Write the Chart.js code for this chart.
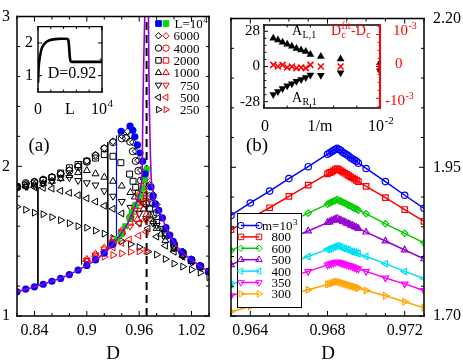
<!DOCTYPE html>
<html>
<head>
<meta charset="utf-8">
<title>order parameter vs D</title>
<script src="https://cdn.jsdelivr.net/npm/chart.js@4.4.1/dist/chart.umd.min.js"></script>
<style>
  body { margin: 0; width: 463px; height: 361px; position: relative; background: #fff; overflow: hidden; }
  canvas { position: absolute; }
</style>
</head>
<body>
<canvas id="chartA" width="232" height="361" style="left:0;top:0"></canvas>
<canvas id="chartB" width="238" height="361" style="left:225px;top:0"></canvas>
<canvas id="insetA" width="100" height="106" style="left:20px;top:12px"></canvas>
<canvas id="insetB" width="190" height="122" style="left:234px;top:12px"></canvas>
<script>
Chart.defaults.font.family = 'Liberation Serif';
Chart.defaults.color = '#000';
var SERIF = '"Liberation Serif"';

// ---------- panel (a) ----------
var aXTicks = [0.84, 0.9, 0.96, 1.02];
var aXTickText = ['0.84', '0.9', '0.96', '1.02'];
var aYTicks = [1, 2, 3];
var aSizes = [6000, 4000, 2000, 1000, 750, 500, 250];

// L = 10^4 (blue filled) and its lower branch (green)
var aBlue = [[0.82,1.162],[0.83,1.180],[0.84,1.195],[0.85,1.212],[0.86,1.232],[0.87,1.251],[0.88,1.277],[0.89,1.307],[0.90,1.338],[0.91,1.375],[0.92,1.420],[0.929,1.476],
  [0.9393,2.234],[0.9496,2.268],[0.9527,2.240],[0.955,2.197],[0.958,2.143],[0.961,2.089],[0.964,2.034],[0.967,1.950],
  [0.9736,1.862],[0.976,1.800],[0.9785,1.750],[0.9824,1.706],[0.9866,1.655],[0.9907,1.591],[0.995,1.540],[0.999,1.498],[1.0087,1.429],[1.0195,1.379],[1.0295,1.336],[1.04,1.297]];
var aGreen = [[0.935,1.515],[0.9393,1.547],[0.944,1.600],[0.9489,1.649],[0.9516,1.693],[0.9557,1.742],[0.961,1.800],[0.9634,1.850],[0.966,1.910],[0.9687,1.980]];

// fit (purple), both sides of D_c
var aFitLeft = [[0.82,1.162],[0.84,1.195],[0.86,1.232],[0.88,1.277],[0.90,1.338],[0.91,1.375],[0.92,1.420],[0.93,1.480],[0.94,1.555],[0.95,1.655],[0.955,1.730],[0.958,1.780],[0.961,1.840],[0.9634,1.970],[0.9638,2.150],[0.9643,2.400],[0.9652,2.700],[0.9664,3.000],[0.9668,3.100]];
var aFitRight = [[0.9703,3.100],[0.9706,3.000],[0.9712,2.600],[0.9720,2.300],[0.9728,2.100],[0.9737,1.930],[0.975,1.860],[0.978,1.770],[0.9824,1.706],[0.9866,1.655],[0.9907,1.591],[0.995,1.540],[1.00,1.490],[1.0087,1.429],[1.0195,1.379],[1.0295,1.336],[1.04,1.297]];

// black: branch coming from the left, per L
var aBlack6000 = [[0.82,1.868],[0.83,1.884],[0.84,1.898],[0.85,1.913],[0.86,1.930],[0.87,1.952],[0.88,1.976],[0.89,2.003],[0.90,2.037],[0.91,2.077],[0.92,2.122],[0.93,2.167],[0.94,2.207],[0.947,2.234],[0.950,2.208],[0.953,2.160],[0.956,2.100],[0.959,2.040],[0.962,1.975],[0.965,1.915],[0.972,1.875],[0.976,1.810],[0.98,1.745],[0.99,1.585],[1.00,1.488],[1.01,1.430],[1.02,1.379],[1.03,1.336],[1.04,1.298]];
var aBlack4000 = [[0.82,1.865],[0.83,1.888],[0.84,1.896],[0.85,1.910],[0.86,1.927],[0.87,1.948],[0.88,1.970],[0.89,1.996],[0.90,2.030],[0.91,2.070],[0.92,2.118],[0.93,2.160],[0.94,2.186],[0.945,2.190],[0.9496,2.164],[0.9527,2.100],[0.956,2.035],[0.959,1.970],[0.962,1.905],[0.965,1.845],[0.972,1.800],[0.976,1.750],[0.98,1.690],[0.99,1.560],[1.00,1.476],[1.01,1.424],[1.02,1.374],[1.03,1.333],[1.04,1.297]];
var aBlack2000 = [[0.82,1.862],[0.83,1.875],[0.84,1.888],[0.85,1.905],[0.86,1.925],[0.87,1.955],[0.88,1.990],[0.89,2.012],[0.90,2.035],[0.91,2.055],[0.92,2.078],[0.93,2.067],[0.939,2.024],[0.949,1.948],[0.953,1.900],[0.956,1.860],[0.959,1.820],[0.962,1.785],[0.965,1.765],[0.968,1.750],[0.972,1.720],[0.976,1.675],[0.98,1.625],[0.99,1.535],[1.00,1.460],[1.01,1.413],[1.02,1.370],[1.03,1.330],[1.04,1.296]];
var aBlack1000 = [[0.82,1.860],[0.83,1.868],[0.84,1.876],[0.85,1.886],[0.86,1.900],[0.87,1.918],[0.88,1.938],[0.89,1.958],[0.90,1.972],[0.91,1.950],[0.92,1.927],[0.93,1.900],[0.94,1.868],[0.95,1.825],[0.955,1.795],[0.96,1.755],[0.965,1.715],[0.972,1.675],[0.976,1.630],[0.98,1.585],[0.985,1.547],[0.99,1.505],[1.00,1.447],[1.01,1.405],[1.02,1.364],[1.03,1.327],[1.04,1.295]];
var aBlack750 = [[0.82,1.858],[0.83,1.866],[0.84,1.874],[0.85,1.885],[0.86,1.900],[0.87,1.922],[0.88,1.925],[0.89,1.905],[0.90,1.890],[0.91,1.875],[0.92,1.836],[0.93,1.800],[0.94,1.765],[0.95,1.725],[0.96,1.685],[0.968,1.652],[0.976,1.620],[0.98,1.605],[0.987,1.584],[0.99,1.550],[1.00,1.455],[1.01,1.402],[1.02,1.360],[1.03,1.325],[1.04,1.293]];
var aBlack500 = [[0.82,1.862],[0.83,1.862],[0.84,1.860],[0.85,1.856],[0.86,1.851],[0.87,1.836],[0.88,1.823],[0.89,1.807],[0.90,1.786],[0.91,1.764],[0.92,1.736],[0.93,1.716],[0.94,1.685],[0.95,1.655],[0.96,1.620],[0.97,1.585],[0.98,1.530],[0.99,1.470],[1.00,1.429],[1.01,1.396],[1.02,1.364],[1.03,1.327],[1.04,1.292]];
var aBlack250 = [[0.82,1.73],[0.83,1.71],[0.84,1.69],[0.85,1.68],[0.86,1.66],[0.87,1.64],[0.88,1.62],[0.89,1.60],[0.90,1.59],[0.91,1.57],[0.92,1.55],[0.93,1.52],[0.94,1.50],[0.95,1.48],[0.96,1.46],[0.97,1.43],[0.98,1.41],[0.99,1.38],[1.00,1.35],[1.01,1.33],[1.02,1.31],[1.03,1.29],[1.04,1.26]];

// red: branch coming from the disordered side, per L
var aRed6000 = [[0.94,1.550],[0.95,1.665],[0.955,1.740],[0.96,1.815],[0.964,1.865],[0.968,1.920]];
var aRed4000 = [[0.93,1.485],[0.94,1.552],[0.95,1.660],[0.955,1.725],[0.96,1.790],[0.964,1.835],[0.968,1.870]];
var aRed2000 = [[0.93,1.490],[0.94,1.560],[0.95,1.655],[0.955,1.700],[0.96,1.740],[0.964,1.765],[0.968,1.786]];
var aRed1000 = [[0.90,1.378],[0.91,1.415],[0.92,1.455],[0.93,1.510],[0.94,1.570],[0.95,1.620],[0.958,1.645],[0.968,1.677]];
var aRed750 = [[0.90,1.372],[0.91,1.408],[0.92,1.448],[0.93,1.495],[0.94,1.550],[0.9496,1.600],[0.96,1.620],[0.968,1.638]];
var aRed500 = [[0.90,1.368],[0.91,1.398],[0.92,1.428],[0.93,1.458],[0.94,1.488],[0.9485,1.511],[0.9594,1.537],[0.968,1.563]];
var aRed250 = [[0.90,1.368],[0.91,1.381],[0.92,1.396],[0.93,1.407],[0.94,1.418],[0.95,1.429],[0.96,1.432],[0.968,1.435]];

var aJumpD = [0.844, 0.894, 0.924];
var aJumpTop = [1.862, 2.034, 2.160];
var aJumpBottom = [1.205, 1.345, 1.447];
var aBlueJump = [0.934, 2.205, 1.500];
var aDc = 0.9685;

// inset (a): profile along the chain at D=0.92
var insetPos = [0,100,200,400,600,900,1300,1800,2400,3000,3600,4200,4600,4750,4850,4950,5050,5150,5300,7000,10000];
var insetVal = [0.78,1.25,1.45,1.68,1.84,1.95,2.03,2.08,2.11,2.12,2.13,2.13,2.12,2.08,1.90,1.62,1.47,1.43,1.42,1.42,1.42];

// ---------- panel (b) ----------
var bXTicks = [0.964, 0.968, 0.972];
var bXTickText = ['0.964', '0.968', '0.972'];
var bYTicks = [1.70, 1.95, 2.20];
var bYTickText = ['1.70', '1.95', '2.20'];
var bM = [1000, 800, 600, 500, 400, 350, 300];
var bD = [0.963,0.964,0.965,0.966,0.967,0.968,0.9681,0.9682,0.9683,0.9684,0.9685,0.9686,0.9687,0.9688,0.9689,0.9690,0.9691,0.9692,0.9693,0.9694,0.9695,0.9696,0.970,0.971,0.972,0.973];
var bM1000 = [1.869,1.890,1.910,1.931,1.951,1.972,1.974,1.976,1.978,1.980,1.982,1.980,1.978,1.975,1.973,1.971,1.969,1.966,1.964,1.962,1.960,1.957,1.948,1.926,1.903,1.881];
var bM800 = [1.845,1.864,1.882,1.901,1.920,1.939,1.941,1.942,1.944,1.946,1.948,1.946,1.944,1.942,1.940,1.938,1.936,1.934,1.932,1.930,1.928,1.926,1.918,1.899,1.879,1.859];
var bM600 = [1.810,1.826,1.841,1.857,1.873,1.888,1.890,1.891,1.893,1.894,1.896,1.894,1.893,1.891,1.890,1.888,1.886,1.885,1.883,1.881,1.880,1.878,1.872,1.855,1.839,1.823];
var bM500 = [1.786,1.800,1.814,1.829,1.843,1.857,1.858,1.860,1.861,1.863,1.864,1.862,1.861,1.859,1.858,1.856,1.855,1.853,1.852,1.850,1.849,1.847,1.841,1.826,1.811,1.796];
var bM400 = [1.753,1.765,1.777,1.788,1.800,1.812,1.813,1.814,1.816,1.817,1.818,1.817,1.816,1.814,1.813,1.812,1.811,1.809,1.808,1.807,1.806,1.805,1.800,1.788,1.775,1.763];
var bM350 = [1.734,1.744,1.755,1.765,1.775,1.786,1.787,1.788,1.789,1.790,1.791,1.790,1.789,1.788,1.787,1.786,1.785,1.784,1.783,1.781,1.780,1.779,1.775,1.764,1.754,1.743];
var bM300 = [1.707,1.716,1.726,1.735,1.744,1.753,1.754,1.755,1.756,1.757,1.758,1.757,1.756,1.755,1.754,1.753,1.752,1.751,1.750,1.749,1.748,1.747,1.743,1.734,1.724,1.714];

// inset (b): amplitudes and D_c shift vs 1/m
var invM = [0.0008,0.0012,0.0016,0.0020,0.0024,0.0028,0.0032,0.0036,0.0040,0.0049,0.0066,0.0100];
var ampLeft = [22.5,21.0,19.3,17.6,16.1,14.4,13.2,12.0,9.5,8.0,6.0,3.0];
var ampRight = [-22.3,-19.8,-17.4,-15.4,-13.7,-11.7,-10.3,-8.8,-6.8,-7.0,-5.0,-3.5];
var dcShift = [0.00005,0,0.00005,-0.00003,0,-0.00005,-0.00003,-0.00005,0.00005,0,0,0];

// ---------- helpers ----------
function pts(arr) { return arr.map(function (p) { return { x: p[0], y: p[1] }; }); }
function zip(xs, ys) { return xs.map(function (x, i) { return { x: x, y: ys[i] }; }); }

var SHAPES = {
  6000: ['rectRot', 0], 4000: ['circle', 0], 2000: ['rect', 0], 1000: ['triangle', 0],
  750: ['triangle', 180], 500: ['triangle', -90], 250: ['triangle', 90]
};
function markRadius(shape) { return shape[0] === 'triangle' ? 4 : shape[0] === 'rect' ? 4.2 : 3.5; }

function markers(arr, color, shape) {
  return {
    data: pts(arr), showLine: false,
    pointStyle: shape[0], pointRotation: shape[1], pointRadius: markRadius(shape),
    pointBorderColor: color, pointBackgroundColor: 'rgba(0,0,0,0)', pointBorderWidth: 1
  };
}
function segment(x, y0, y1, color, width, dash) {
  return {
    data: [{ x: x, y: y0 }, { x: x, y: y1 }], showLine: true, pointRadius: 0,
    borderColor: color, borderWidth: width, borderDash: dash || []
  };
}

function richText(ctx, parts, x, y, size, align, color) {
  var small = Math.round(size * 0.68);
  var big = size + 'px ' + SERIF, sm = small + 'px ' + SERIF;
  var widths = parts.map(function (p) {
    if (typeof p === 'string') { ctx.font = big; return ctx.measureText(p).width; }
    ctx.font = sm;
    return Math.max(p.sup ? ctx.measureText(p.sup).width : 0, p.sub ? ctx.measureText(p.sub).width : 0) + 1;
  });
  var total = widths.reduce(function (s, w) { return s + w; }, 0);
  var cx = align === 'center' ? x - total / 2 : align === 'right' ? x - total : x;
  ctx.fillStyle = color || '#000';
  ctx.textAlign = 'left';
  ctx.textBaseline = 'alphabetic';
  parts.forEach(function (p, i) {
    if (typeof p === 'string') { ctx.font = big; ctx.fillText(p, cx, y); }
    else {
      ctx.font = sm;
      if (p.sup) ctx.fillText(p.sup, cx + 0.5, y - size * 0.42);
      if (p.sub) ctx.fillText(p.sub, cx + 0.5, y + size * 0.22);
    }
    cx += widths[i];
  });
}

function symbol(ctx, shape, x, y, stroke, fill, r) {
  ctx.strokeStyle = stroke;
  ctx.fillStyle = fill || 'rgba(0,0,0,0)';
  ctx.lineWidth = 1;
  Chart.helpers.drawPoint(ctx, { pointStyle: shape[0], rotation: shape[1], radius: r || markRadius(shape), borderWidth: 1 }, x, y);
}

// inward ticks on every side + frame
var framePlugin = {
  id: 'frame',
  afterDatasetsDraw: function (chart, args, o) {
    var ctx = chart.ctx, a = chart.chartArea;
    ctx.save();
    (o.sets || []).forEach(function (s) {
      var sc = chart.scales[s.axis];
      ctx.strokeStyle = s.color || '#000';
      ctx.lineWidth = s.lw || 1;
      ctx.beginPath();
      [[s.major, o.len || 5], [s.minor, (o.len || 5) * 0.6]].forEach(function (pair) {
        (pair[0] || []).forEach(function (v) {
          var p = sc.getPixelForValue(v);
          s.sides.forEach(function (side) {
            if (side === 'bottom') { ctx.moveTo(p, a.bottom); ctx.lineTo(p, a.bottom - pair[1]); }
            if (side === 'top') { ctx.moveTo(p, a.top); ctx.lineTo(p, a.top + pair[1]); }
            if (side === 'left') { ctx.moveTo(a.left, p); ctx.lineTo(a.left + pair[1], p); }
            if (side === 'right') { ctx.moveTo(a.right, p); ctx.lineTo(a.right - pair[1], p); }
          });
        });
      });
      ctx.stroke();
    });
    var bw = o.bw || 1.5;
    var edges = {
      top: [a.left, a.top, a.right, a.top], bottom: [a.left, a.bottom, a.right, a.bottom],
      left: [a.left, a.top, a.left, a.bottom], right: [a.right, a.top, a.right, a.bottom]
    };
    ctx.lineCap = 'square';
    Object.keys(edges).forEach(function (k) {
      var e = edges[k];
      ctx.strokeStyle = (o.edgeColor && o.edgeColor[k]) || '#000';
      ctx.lineWidth = (o.edgeWidth && o.edgeWidth[k]) || bw;
      ctx.beginPath(); ctx.moveTo(e[0], e[1]); ctx.lineTo(e[2], e[3]); ctx.stroke();
    });
    ctx.restore();
  }
};

var whiteBox = {
  id: 'whiteBox',
  beforeDatasetsDraw: function (chart) {
    var a = chart.chartArea;
    chart.ctx.save();
    chart.ctx.fillStyle = '#fff';
    chart.ctx.fillRect(a.left, a.top, a.width, a.height);
    chart.ctx.restore();
  }
};

function fixed(vals) { return function (s) { s.ticks = vals.map(function (v) { return { value: v }; }); }; }
function baseScale(extra) {
  var s = {
    type: 'linear', grid: { display: false, drawTicks: false }, border: { display: false },
    ticks: { autoSkip: false, maxRotation: 0, font: { size: 16 } }
  };
  Object.keys(extra).forEach(function (k) {
    if (k === 'ticks') Object.keys(extra.ticks).forEach(function (t) { s.ticks[t] = extra.ticks[t]; });
    else s[k] = extra[k];
  });
  return s;
}
var common = { responsive: false, animation: false, events: [] };
function opts(o) { Object.keys(common).forEach(function (k) { o[k] = common[k]; }); return o; }

// ---------- panel (a) chart ----------
var redSets = [aRed6000, aRed4000, aRed2000, aRed1000, aRed750, aRed500, aRed250];
var blackSets = [aBlack6000, aBlack4000, aBlack2000, aBlack1000, aBlack750, aBlack500, aBlack250];

var aDatasets = [
  { data: pts(aFitLeft), showLine: true, pointRadius: 0, borderColor: '#9400d3', borderWidth: 1.6, cubicInterpolationMode: 'monotone', clip: 0 },
  { data: pts(aFitRight), showLine: true, pointRadius: 0, borderColor: '#9400d3', borderWidth: 1.6, cubicInterpolationMode: 'monotone', clip: 0 },
  { data: pts(aBlue), showLine: false, pointStyle: 'circle', pointRadius: 3.6, pointBackgroundColor: '#0000ff', pointBorderColor: '#0000ff', pointBorderWidth: 0 },
  { data: pts(aGreen), showLine: false, pointStyle: 'rect', pointRadius: 4.2, pointBackgroundColor: '#00dd00', pointBorderColor: '#00dd00', pointBorderWidth: 0 }
];
aSizes.forEach(function (L, i) { aDatasets.push(markers(redSets[i], '#ff0000', SHAPES[L])); });
aSizes.forEach(function (L, i) { aDatasets.push(markers(blackSets[i], '#000', SHAPES[L])); });
aJumpD.forEach(function (d, i) { aDatasets.push(segment(d, aJumpTop[i], aJumpBottom[i], '#000', 1)); });
aDatasets.push(segment(aBlueJump[0], aBlueJump[1], aBlueJump[2], '#0000ff', 1.2));
aDatasets.push(segment(aDc, 1, 3, '#000', 2, [8, 5]));

var panelAText = {
  id: 'panelAText',
  afterDraw: function (chart) {
    var ctx = chart.ctx;
    ctx.save();
    richText(ctx, ['(a)'], 39, 151, 19, 'center');
    richText(ctx, ['D'], 113, 359, 19, 'center');
    // legend
    var y0 = 23.5, dy = 12.3;
    symbol(ctx, ['rect', 0], 158.5, y0, '#0000ff', '#0000ff', 4);
    symbol(ctx, ['rect', 0], 166, y0, '#00dd00', '#00dd00', 4);
    richText(ctx, ['L=10', { sup: '4' }], 174.5, y0 + 4.5, 13, 'left');
    aSizes.forEach(function (L, i) {
      var y = y0 + dy * (i + 1);
      symbol(ctx, SHAPES[L], 158.5, y, '#000', null, markRadius(SHAPES[L]) - 0.3);
      symbol(ctx, SHAPES[L], 166, y, '#ff0000', null, markRadius(SHAPES[L]) - 0.3);
      richText(ctx, [String(L)], 199.5, y + 4.5, 13, 'right');
    });
    ctx.restore();
  }
};

new Chart(document.getElementById('chartA'), {
  type: 'scatter',
  data: { datasets: aDatasets },
  options: opts({
    layout: { padding: { top: 7, right: 23, left: 0, bottom: 0 } },
    scales: {
      x: baseScale({ min: 0.82, max: 1.04, afterBuildTicks: fixed(aXTicks), afterFit: function (s) { s.height = 45; },
        ticks: { padding: 5, callback: function (v, i) { return aXTickText[i]; } } }),
      y: baseScale({ min: 1, max: 3, afterBuildTicks: fixed(aYTicks), afterFit: function (s) { s.width = 17; },
        ticks: { padding: 7, callback: function (v, i) { return String(aYTicks[i]); } } })
    },
    plugins: {
      legend: { display: false }, tooltip: { enabled: false },
      frame: { len: 5, sets: [
        { axis: 'x', major: aXTicks, minor: [0.82, 0.86, 0.88, 0.92, 0.94, 0.98, 1.0, 1.04], sides: ['bottom', 'top'] },
        { axis: 'y', major: aYTicks, minor: [1.2, 1.4, 1.6, 1.8, 2.2, 2.4, 2.6, 2.8], sides: ['left', 'right'] }
      ] }
    }
  }),
  plugins: [framePlugin, panelAText]
});

// ---------- inset (a) ----------
new Chart(document.getElementById('insetA'), {
  type: 'scatter',
  data: { datasets: [
    { data: zip(insetPos, insetVal), showLine: true, pointRadius: 0, borderColor: '#000', borderWidth: 2.6, cubicInterpolationMode: 'monotone' }
  ] },
  options: opts({
    layout: { padding: { top: 6, right: 18, left: 0, bottom: 0 } },
    scales: {
      x: baseScale({ min: 0, max: 10000, afterFit: function (s) { s.height = 26; }, ticks: { display: false } }),
      y: baseScale({ min: 0.5, max: 2.5, afterBuildTicks: fixed([1, 2]), afterFit: function (s) { s.width = 18; },
        ticks: { padding: 5, callback: function (v) { return String(v); } } })
    },
    plugins: {
      legend: { display: false }, tooltip: { enabled: false },
      frame: { len: 4, bw: 1.4, sets: [
        { axis: 'x', major: [0, 10000], minor: [2000, 4000, 6000, 8000], sides: ['bottom', 'top'] },
        { axis: 'y', major: [1, 2], minor: [1.5, 2.5], sides: ['left', 'right'] }
      ] }
    }
  }),
  plugins: [whiteBox, framePlugin, {
    id: 'insetAText',
    afterDraw: function (chart) {
      var ctx = chart.ctx;
      ctx.save();
      ctx.translate(-20, -12);
      richText(ctx, ['0'], 38, 113.5, 16, 'center');
      richText(ctx, ['L'], 70, 113.5, 16, 'center');
      richText(ctx, ['10', { sup: '4' }], 91, 113.5, 16, 'left');
      richText(ctx, ['D=0.92'], 72, 78, 16, 'center');
      ctx.restore();
    }
  }]
});

// ---------- panel (b) chart ----------
var bSeries = [bM1000, bM800, bM600, bM500, bM400, bM350, bM300];
var bColors = ['#0000ff', '#ff0000', '#00cc00', '#9400d3', '#00e0ee', '#ff00ff', '#ffa500'];
var bShapes = [['circle', 0], ['rect', 0], ['rectRot', 0], ['triangle', 0], ['triangle', -90], ['triangle', 180], ['triangle', 90]];

var bDatasets = bSeries.map(function (vals, i) {
  return {
    data: zip(bD, vals), showLine: true, borderColor: bColors[i], borderWidth: 1.5,
    pointStyle: bShapes[i][0], pointRotation: bShapes[i][1], pointRadius: markRadius(bShapes[i]) - 0.3,
    pointBorderColor: bColors[i], pointBackgroundColor: 'rgba(0,0,0,0)', pointBorderWidth: 1.2
  };
});

var panelBText = {
  id: 'panelBText',
  afterDraw: function (chart) {
    var ctx = chart.ctx;
    ctx.save();
    ctx.translate(-225, 0);
    richText(ctx, ['(b)'], 257, 151, 19, 'center');
    richText(ctx, ['D'], 328, 359, 19, 'center');
    // legend box
    ctx.fillStyle = '#fff';
    ctx.fillRect(237, 213, 65, 95);
    ctx.strokeStyle = '#000';
    ctx.lineWidth = 1;
    ctx.strokeRect(237.5, 213.5, 64, 94);
    bM.forEach(function (m, i) {
      var y = 225.5 + i * 11.4;
      ctx.strokeStyle = bColors[i];
      ctx.lineWidth = 1.5;
      ctx.beginPath(); ctx.moveTo(241, y); ctx.lineTo(259, y); ctx.stroke();
      symbol(ctx, bShapes[i], 241, y, bColors[i], null, markRadius(bShapes[i]) - 0.3);
      symbol(ctx, bShapes[i], 259, y, bColors[i], null, markRadius(bShapes[i]) - 0.3);
      if (i === 0) richText(ctx, ['m=10', { sup: '3' }], 262, y + 4.5, 13, 'left');
      else richText(ctx, [String(m)], 291, y + 4.5, 13, 'right');
    });
    ctx.restore();
  }
};

new Chart(document.getElementById('chartB'), {
  type: 'scatter',
  data: { datasets: bDatasets },
  options: opts({
    layout: { padding: { top: 7, right: 0, left: 6, bottom: 0 } },
    scales: {
      x: baseScale({ min: 0.963, max: 0.973, afterBuildTicks: fixed(bXTicks), afterFit: function (s) { s.height = 45; },
        ticks: { padding: 5, callback: function (v, i) { return bXTickText[i]; } } }),
      y: baseScale({ position: 'right', min: 1.7, max: 2.2, afterBuildTicks: fixed(bYTicks), afterFit: function (s) { s.width = 39; },
        ticks: { padding: 9, callback: function (v, i) { return bYTickText[i]; } } })
    },
    plugins: {
      legend: { display: false }, tooltip: { enabled: false },
      frame: { len: 5, sets: [
        { axis: 'x', major: bXTicks, minor: [0.963, 0.965, 0.966, 0.967, 0.969, 0.970, 0.971, 0.973], sides: ['bottom', 'top'] },
        { axis: 'y', major: bYTicks, minor: [1.75, 1.8, 1.85, 1.9, 2.0, 2.05, 2.1, 2.15], sides: ['right', 'left'] }
      ] }
    }
  }),
  plugins: [framePlugin, panelBText]
});

// ---------- inset (b) ----------
new Chart(document.getElementById('insetB'), {
  type: 'scatter',
  data: { datasets: [
    { data: zip(invM, dcShift), yAxisID: 'y2', showLine: false, pointStyle: 'crossRot', pointRadius: 4.2, pointBorderColor: '#ff0000', pointBorderWidth: 1.6 },
    { data: zip(invM, ampLeft), showLine: false, pointStyle: 'triangle', pointRadius: 4.5, pointBackgroundColor: '#000', pointBorderColor: '#000', pointBorderWidth: 0 },
    { data: zip(invM, ampRight), showLine: false, pointStyle: 'triangle', pointRotation: 180, pointRadius: 4.5, pointBackgroundColor: '#000', pointBorderColor: '#000', pointBorderWidth: 0 }
  ] },
  options: opts({
    layout: { padding: { top: 6, right: 0, left: 0, bottom: 0 } },
    scales: {
      x: baseScale({ min: 0, max: 0.01, afterFit: function (s) { s.height = 26; }, ticks: { display: false } }),
      y: baseScale({ min: -33, max: 33, afterBuildTicks: fixed([-28, 0, 28]), afterFit: function (s) { s.width = 30; },
        ticks: { padding: 4, font: { size: 15 }, callback: function (v) { return String(v); } } }),
      y2: baseScale({ position: 'right', min: -0.0013, max: 0.0013, afterFit: function (s) { s.width = 44; }, ticks: { display: false } })
    },
    plugins: {
      legend: { display: false }, tooltip: { enabled: false },
      frame: { len: 4, bw: 1.4, edgeColor: { right: '#ff0000' }, edgeWidth: { right: 2 }, sets: [
        { axis: 'x', major: [0, 0.01], minor: [0.002, 0.004, 0.006, 0.008], sides: ['bottom', 'top'] },
        { axis: 'y', major: [-28, 0, 28], minor: [-22.4, -16.8, -11.2, -5.6, 5.6, 11.2, 16.8, 22.4], sides: ['left'] },
        { axis: 'y2', color: '#ff0000', major: [-0.001, 0, 0.001], minor: [-0.00125, -0.00075, -0.0005, -0.00025, 0.00025, 0.0005, 0.00075, 0.00125], sides: ['right'] }
      ] }
    }
  }),
  plugins: [whiteBox, framePlugin, {
    id: 'insetBText',
    afterDraw: function (chart) {
      var ctx = chart.ctx;
      ctx.save();
      ctx.translate(-234, -12);
      richText(ctx, ['A', { sub: 'L,1' }], 292, 35, 14, 'left');
      richText(ctx, ['A', { sub: 'R,1' }], 292, 102, 14, 'left');
      richText(ctx, ['D', { sub: 'c', sup: 'fit' }, '-D', { sub: 'c' }], 331, 35, 14, 'left', '#ff0000');
      richText(ctx, ['10', { sup: '-3' }], 393, 35, 15, 'left', '#ff0000');
      richText(ctx, ['0'], 395, 68, 15, 'left', '#ff0000');
      richText(ctx, ['-10', { sup: '-3' }], 385, 105, 15, 'left', '#ff0000');
      richText(ctx, ['0'], 265, 130.5, 16, 'center');
      richText(ctx, ['1/m'], 320, 130.5, 16, 'center');
      richText(ctx, ['10', { sup: '-2' }], 368, 130.5, 16, 'left');
      ctx.restore();
    }
  }]
});
</script>
</body>
</html>
